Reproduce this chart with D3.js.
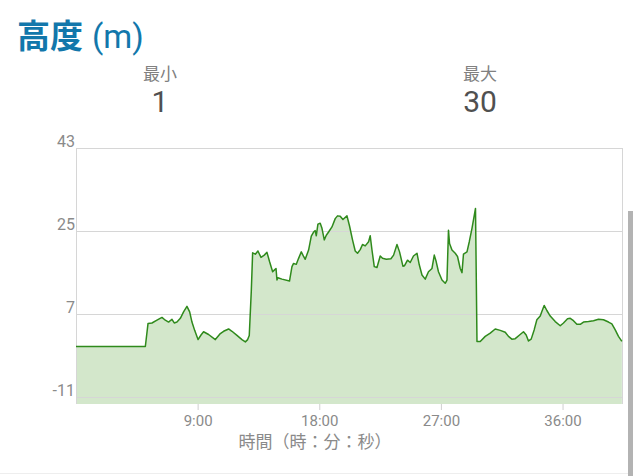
<!DOCTYPE html>
<html><head><meta charset="utf-8">
<script src="https://cdn.jsdelivr.net/npm/d3@7"></script>
<style>
html,body{margin:0;padding:0;background:#fff;}
svg{display:block;}
</style></head>
<body>
<script>
// Time in minutes
const times = [0,5.13,5.33,5.62,5.99,6.36,6.61,6.85,7.10,7.27,7.47,7.72,7.96,8.21,8.41,8.58,8.78,9.03,9.25,9.44,9.81,10.31,10.68,10.92,11.29,11.54,11.91,12.28,12.53,12.70,12.82,12.97,13.07,13.27,13.46,13.69,13.93,14.13,14.32,14.55,14.69,14.80,14.87,14.94,15.24,15.80,15.98,16.10,16.30,16.47,16.67,16.84,16.96,17.21,17.41,17.58,17.70,17.78,17.90,18.07,18.20,18.37,18.52,18.69,18.94,19.18,19.35,19.55,19.75,20.05,20.24,20.46,20.66,20.83,21.03,21.20,21.40,21.65,21.77,21.90,22.07,22.27,22.51,22.68,22.96,23.30,23.50,23.75,23.94,24.19,24.31,24.53,24.73,24.97,25.23,25.40,25.60,25.84,26.08,26.34,26.51,26.65,26.82,27.08,27.32,27.45,27.56,27.64,27.82,28.06,28.23,28.43,28.56,28.67,28.93,29.10,29.30,29.56,29.67,29.91,30.28,30.65,31.02,31.39,31.76,32.00,32.25,32.50,32.82,33.11,33.31,33.48,33.68,33.90,34.10,34.35,34.47,34.64,34.84,35.09,35.46,35.83,36.07,36.37,36.57,36.81,37.06,37.31,37.55,37.92,38.29,38.66,39.03,39.40,39.65,39.90,40.14,40.39];
// Altitude in metres
const altitudes = [0,0,5.0,5.1,5.7,6.3,5.7,5.3,5.9,5.1,5.3,6.1,7.5,8.7,7.5,5.3,3.5,1.5,2.5,3.2,2.6,1.5,2.8,3.3,3.8,3.3,2.4,1.5,1.0,1.5,2.4,12.0,20.3,20.0,20.7,19.3,19.8,20.4,18.4,16.2,16.6,16.9,14.4,14.9,14.6,14.2,17.3,18.0,17.8,19.1,20.5,19.5,18.9,20.9,23.9,24.8,25.1,24.0,26.5,26.7,25.6,23.1,24.1,24.8,25.9,27.7,28.3,28.2,27.5,28.3,26.1,23.1,20.7,20.2,21.0,22.1,21.8,22.7,24.0,20.9,17.3,17.1,19.6,19.1,18.9,19.0,19.8,22.1,20.5,17.4,17.5,18.7,18.2,19.6,20.2,17.7,15.5,14.6,16.2,16.9,19.8,18.4,16.2,14.4,13.7,14.4,25.2,22.3,20.9,20.2,19.5,16.9,16.0,20.0,20.5,22.7,25.6,29.9,1.1,1.1,2.2,2.9,3.8,3.5,3.1,2.2,1.6,1.7,2.5,3.2,2.5,1.2,1.6,3.6,5.8,6.6,7.6,8.9,7.8,6.6,5.4,4.5,5.1,6.0,6.1,5.6,4.8,4.8,5.3,5.4,5.6,5.9,5.8,5.3,4.9,3.6,2.2,1.1];
const yTicks = [43, 25, 7, -11];
const xTicks = [9, 18, 27, 36];
const xTickLabels = ["9:00", "18:00", "27:00", "36:00"];
const title = "高度";
const titleUnit = "(m)";
const statLabels = ["最小", "最大"];
const statValues = ["1", "30"];
const xAxisTitle = "時間（時：分：秒）";

const W = 640, H = 476;
const svg = d3.select("body").append("svg").attr("width", W).attr("height", H);
const L = 76, R = 622, T = 148, B = 404;
const x = d3.scaleLinear().domain([0, 40.4]).range([L, R]);
const y = d3.scaleLinear().domain([-12.45, 43]).range([B, T]);
const data = times.map((t, i) => ({t, v: altitudes[i]}));
const cjk = "'Noto Sans CJK JP','Noto Sans',sans-serif";

// Title
const tt = svg.append("text").attr("x", 17).attr("y", 48).attr("fill", "#1277ab")
  .style("font-family", cjk).style("font-size", "33px");
tt.append("tspan").attr("font-weight", "bold").text(title);
tt.append("tspan").attr("dx", 9).attr("font-weight", "normal").style("font-family","Roboto,'Noto Sans',sans-serif").text(titleUnit);

// Stats
const statX = [160, 480];
statLabels.forEach((s, i) => {
  svg.append("text").attr("x", statX[i]).attr("y", 80).attr("text-anchor", "middle")
    .attr("fill", "#808080").style("font-family", cjk).style("font-size", "17px").text(s);
  svg.append("text").attr("x", statX[i]).attr("y", 112).attr("text-anchor", "middle")
    .attr("fill", "#505050").style("font-family", "Roboto,sans-serif").style("font-size", "30px").text(statValues[i]);
});

// Area
svg.append("path").datum(data)
  .attr("d", d3.area().x(d => x(d.t)).y0(B).y1(d => y(d.v)))
  .attr("fill", "#d3e7cb");

// gridlines
const g = svg.append("g");
g.selectAll("line.grid").data(yTicks).join("line")
  .attr("x1", L).attr("x2", R).attr("y1", d => Math.round(y(d)) + 0.5).attr("y2", d => Math.round(y(d)) + 0.5)
  .attr("stroke", "#d6d6d6").attr("stroke-width", 1);
g.append("line").attr("x1", L + 0.5).attr("x2", L + 0.5).attr("y1", T).attr("y2", B).attr("stroke", "#d6d6d6");
g.append("line").attr("x1", R + 0.5).attr("x2", R + 0.5).attr("y1", T).attr("y2", B).attr("stroke", "#d6d6d6");

// Line
svg.append("path").datum(data)
  .attr("d", d3.line().x(d => x(d.t)).y(d => y(d.v)))
  .attr("fill", "none").attr("stroke", "#2f8a1c").attr("stroke-width", 1.5).attr("stroke-linejoin", "round");

// y labels
svg.selectAll("text.yl").data(yTicks).join("text")
  .attr("x", 75).attr("y", d => y(d) - 1).attr("text-anchor", "end")
  .attr("fill", "#8a8a8a").style("font-family", "Roboto,sans-serif").style("font-size", "16px")
  .text(d => d);

// x axis
const xAxis = d3.axisBottom(x).tickValues(xTicks).tickSize(6).tickFormat((d, i) => xTickLabels[i]);
const ax = svg.append("g").attr("transform", `translate(0,${B})`).call(xAxis);
ax.select(".domain").remove();
ax.selectAll(".tick line").attr("stroke", "#cfcfcf");
ax.selectAll(".tick text").attr("fill", "#8a8a8a").attr("y", 22).attr("dy", null)
  .style("font-family", "Roboto,sans-serif").style("font-size", "15px");

svg.append("text").attr("x", 315).attr("y", 448).attr("text-anchor", "middle")
  .attr("fill", "#8a8a8a").style("font-family", "Roboto,'Noto Sans CJK JP',sans-serif").style("font-size", "17px").text(xAxisTitle);

// scrollbar & separator
svg.append("rect").attr("x", 628).attr("y", 211).attr("width", 5).attr("height", H - 211).attr("fill", "#b3b3b3");
svg.append("line").attr("x1", 0).attr("x2", 628).attr("y1", 473.5).attr("y2", 473.5).attr("stroke", "#eeeeee");
</script>
</body></html>
